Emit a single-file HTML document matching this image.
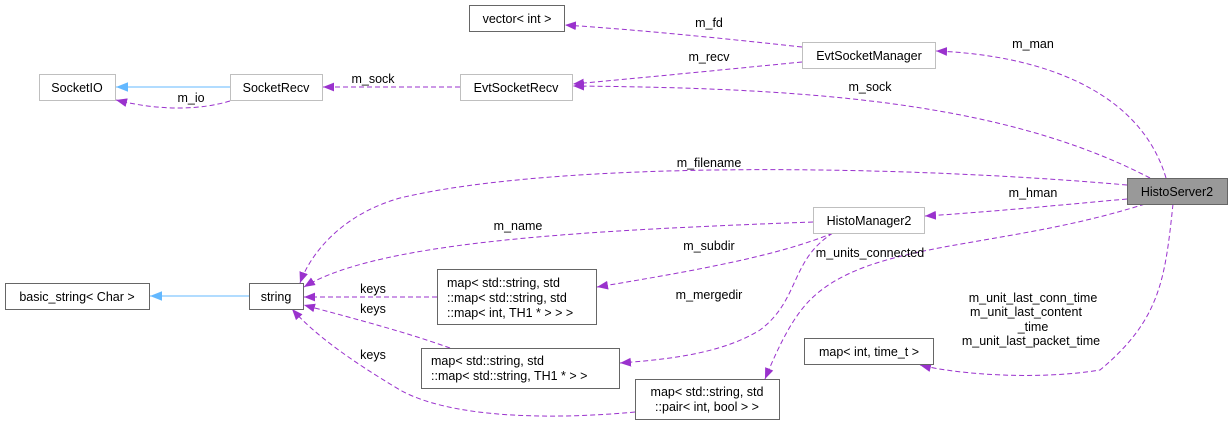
<!DOCTYPE html>
<html><head><meta charset="utf-8"><style>
html,body{margin:0;padding:0;background:#fff;}
svg{display:block;}
text{font-family:"Liberation Sans",sans-serif;font-size:12.5px;fill:#000;}
.e{fill:none;stroke:#9a32cd;stroke-dasharray:5,3;stroke-width:1;}
.b{fill:none;stroke:#63b8ff;stroke-width:1;}
.n1{fill:#fff;stroke:#bfbfbf;}
.n2{fill:#fff;stroke:#666;}
</style></head><body>
<svg width="1232" height="425" viewBox="0 0 1232 425" xmlns="http://www.w3.org/2000/svg">
<defs>
<marker id="p" viewBox="0 0 10 10" refX="10" refY="5" markerWidth="11" markerHeight="11" markerUnits="userSpaceOnUse" orient="auto"><path d="M0,1 L10,5 L0,9 z" fill="#9a32cd"/></marker>
<marker id="q" viewBox="0 0 10 10" refX="10" refY="5" markerWidth="12" markerHeight="12" markerUnits="userSpaceOnUse" orient="auto"><path d="M0,1 L10,5 L0,9 z" fill="#63b8ff"/></marker>
</defs>

<path class="e" marker-end="url(#p)" d="M802,47 C720,38 640,30 565,25"/>
<path class="e" marker-end="url(#p)" d="M802,62 C720,70 640,78 573,84"/>
<path class="b" marker-end="url(#q)" d="M230,87 L116,87"/>
<path class="e" marker-end="url(#p)" d="M230,101 C200,110 160,111 116,100"/>
<path class="e" marker-end="url(#p)" d="M460,87 L323,87"/>
<path class="e" marker-end="url(#p)" d="M1166,178 C1140,90 1040,55 936,51"/>
<path class="e" marker-end="url(#p)" d="M1150,178 C1000,100 800,88 573,86"/>
<path class="e" marker-end="url(#p)" d="M1127,185 C900,165 560,160 400,198 C340,215 310,255 300,283"/>
<path class="e" marker-end="url(#p)" d="M1127,199 C1060,205 990,212 925,216"/>
<path class="e" marker-end="url(#p)" d="M1145,204 C1000,250 870,240 810,300 C790,320 775,355 765,379"/>
<path class="e" marker-end="url(#p)" d="M1173,204 C1165,280 1160,320 1100,370 C1040,380 960,375 920,365"/>
<path class="e" marker-end="url(#p)" d="M813,222 C600,230 380,240 304,287"/>
<path class="e" marker-end="url(#p)" d="M833,233 C780,255 700,270 597,287"/>
<path class="e" marker-end="url(#p)" d="M833,233 C790,260 800,300 760,330 C720,355 660,360 620,363"/>
<path class="e" marker-end="url(#p)" d="M437,297 L304,297"/>
<path class="e" marker-end="url(#p)" d="M450,348 C400,330 340,315 304,305"/>
<path class="e" marker-end="url(#p)" d="M635,412 C550,420 450,418 400,390 C350,360 315,335 292,309"/>
<path class="b" marker-end="url(#q)" d="M249,296 L150,296"/>

<rect class="n2" x="469.5" y="5.5" width="95" height="26"/><text x="517" y="23" text-anchor="middle">vector&lt; int &gt;</text>
<rect class="n1" x="39.5" y="74.5" width="76" height="26"/><text x="77" y="92" text-anchor="middle">SocketIO</text>
<rect class="n1" x="230.5" y="74.5" width="92" height="26"/><text x="276" y="92" text-anchor="middle">SocketRecv</text>
<rect class="n1" x="460.5" y="74.5" width="112" height="26"/><text x="516" y="92" text-anchor="middle">EvtSocketRecv</text>
<rect class="n1" x="802.5" y="42.5" width="133" height="26"/><text x="869" y="60" text-anchor="middle">EvtSocketManager</text>
<rect x="1127.5" y="178.5" width="100" height="26" fill="#999" stroke="#666"/><text x="1177" y="196" text-anchor="middle">HistoServer2</text>
<rect class="n1" x="813.5" y="207.5" width="111" height="26"/><text x="869" y="225" text-anchor="middle">HistoManager2</text>
<rect class="n2" x="5.5" y="283.5" width="144" height="26"/><text x="77" y="301" text-anchor="middle">basic_string&lt; Char &gt;</text>
<rect class="n2" x="249.5" y="283.5" width="54" height="26"/><text x="276" y="301" text-anchor="middle">string</text>
<rect class="n2" x="437.5" y="269.5" width="159" height="55"/>
<text x="447" y="287">map&lt; std::string, std</text><text x="447" y="302">::map&lt; std::string, std</text><text x="447" y="317">::map&lt; int, TH1 * &gt; &gt; &gt;</text>
<rect class="n2" x="421.5" y="348.5" width="198" height="40"/>
<text x="431" y="365">map&lt; std::string, std</text><text x="431" y="380">::map&lt; std::string, TH1 * &gt; &gt;</text>
<rect class="n2" x="804.5" y="338.5" width="129" height="26"/><text x="869" y="356" text-anchor="middle">map&lt; int, time_t &gt;</text>
<rect class="n2" x="635.5" y="379.5" width="144" height="40"/>
<text x="707" y="396" text-anchor="middle">map&lt; std::string, std</text><text x="707" y="411" text-anchor="middle">::pair&lt; int, bool &gt; &gt;</text>

<text x="709" y="27" text-anchor="middle">m_fd</text>
<text x="709" y="61" text-anchor="middle">m_recv</text>
<text x="1033" y="48" text-anchor="middle">m_man</text>
<text x="373" y="83" text-anchor="middle">m_sock</text>
<text x="191" y="102" text-anchor="middle">m_io</text>
<text x="870" y="91" text-anchor="middle">m_sock</text>
<text x="709" y="167" text-anchor="middle">m_filename</text>
<text x="1033" y="197" text-anchor="middle">m_hman</text>
<text x="518" y="230" text-anchor="middle">m_name</text>
<text x="709" y="250" text-anchor="middle">m_subdir</text>
<text x="870" y="257" text-anchor="middle">m_units_connected</text>
<text x="709" y="299" text-anchor="middle">m_mergedir</text>
<text x="373" y="293" text-anchor="middle">keys</text>
<text x="373" y="313" text-anchor="middle">keys</text>
<text x="373" y="359" text-anchor="middle">keys</text>
<text x="1033" y="302" text-anchor="middle">m_unit_last_conn_time</text>
<text x="1026" y="316" text-anchor="middle">m_unit_last_content</text>
<text x="1033" y="331" text-anchor="middle">_time</text>
<text x="1031" y="345" text-anchor="middle">m_unit_last_packet_time</text>
</svg>
</body></html>
